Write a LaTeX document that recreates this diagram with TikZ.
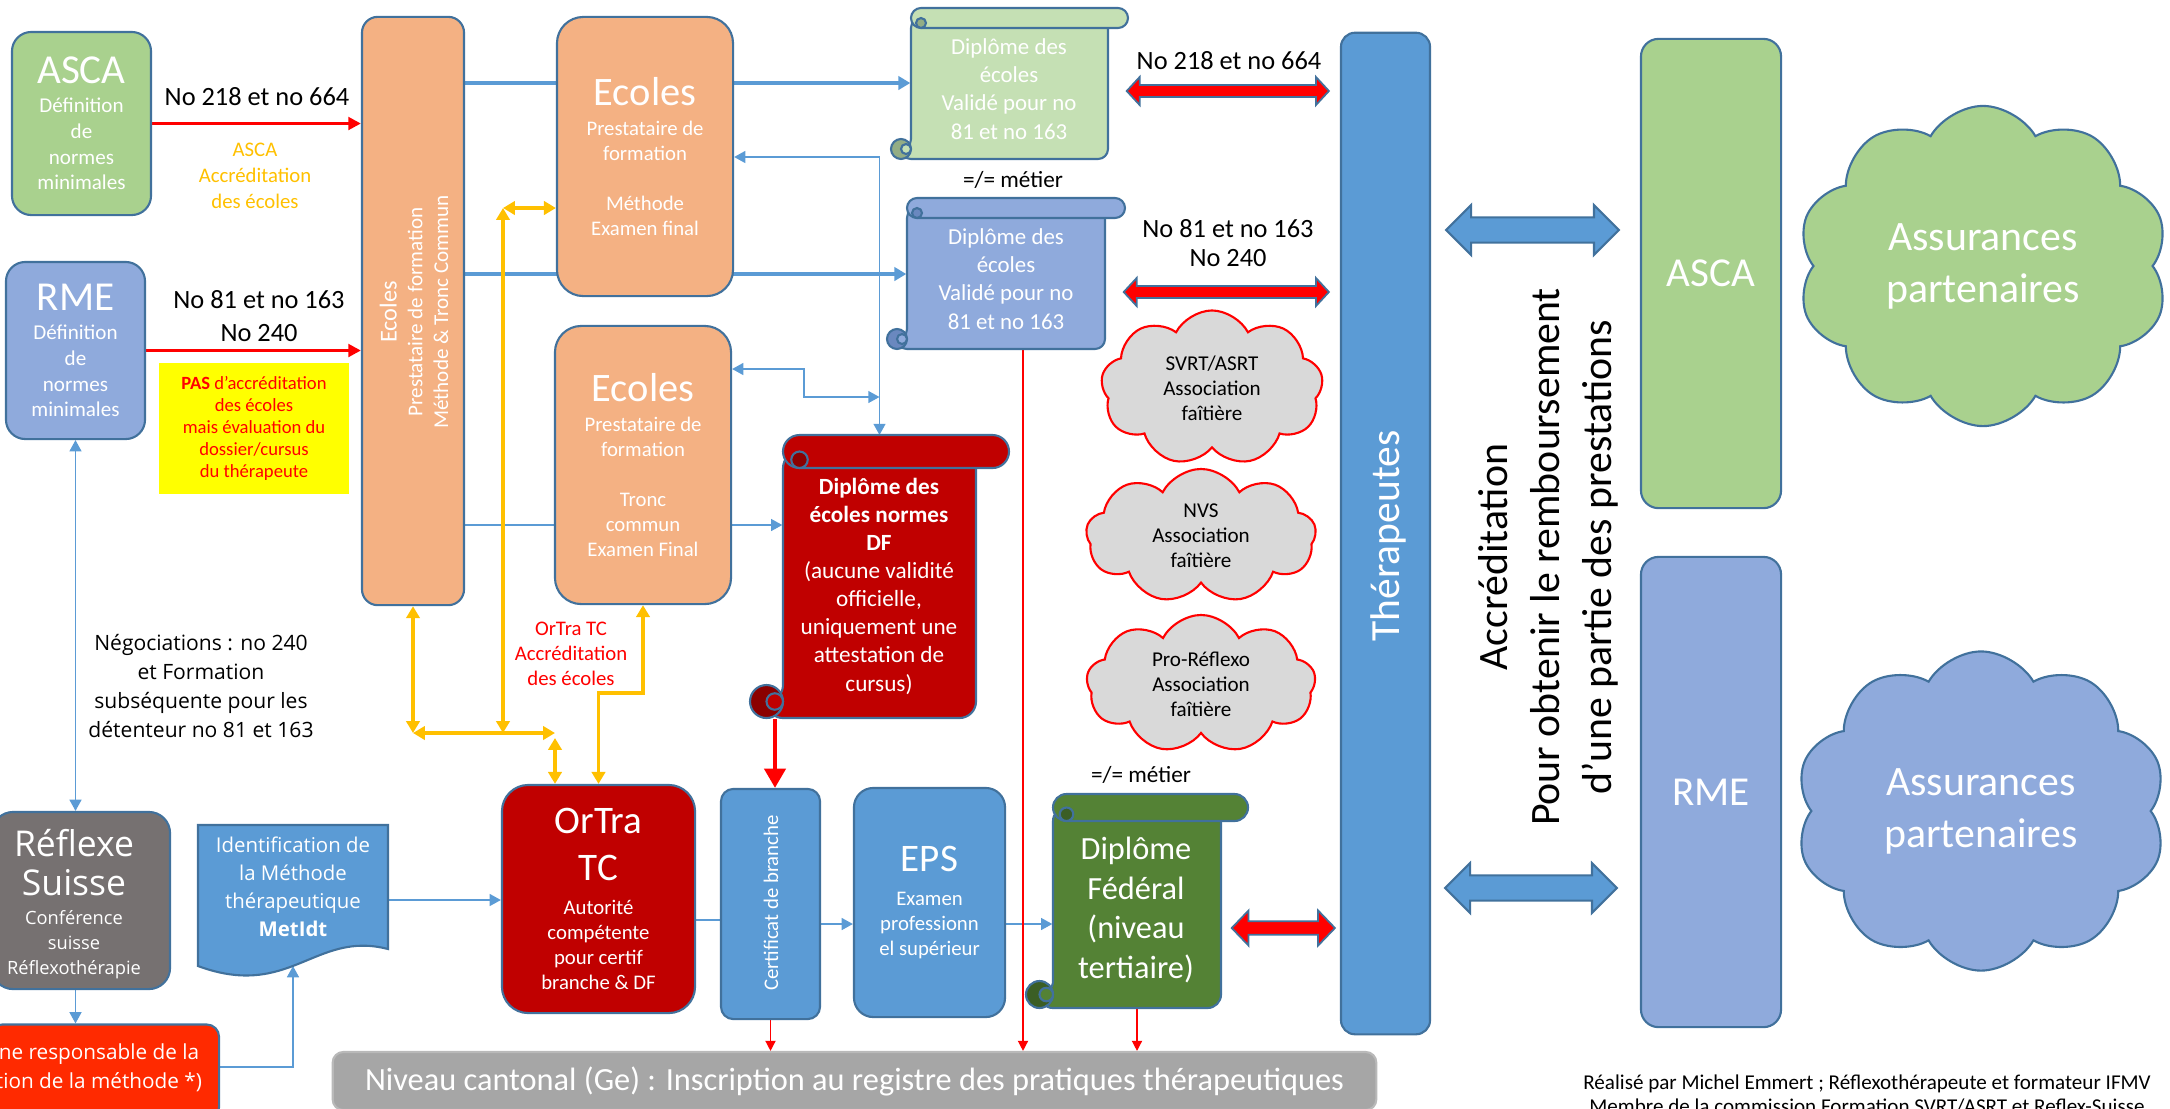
\documentclass[tikz,border=0pt]{standalone}
\usepackage{fontspec}
\setmainfont{Carlito}
\newfontfamily\segoe{Open Sans}
\usetikzlibrary{arrows.meta,shapes.symbols,calc,backgrounds}

\definecolor{bordc}{HTML}{41719C}
\definecolor{greenL}{HTML}{A9D18E}
\definecolor{blueL}{HTML}{8FAADC}
\definecolor{orangeL}{HTML}{F4B183}
\definecolor{blueM}{HTML}{5B9BD5}
\definecolor{redD}{HTML}{C00000}
\definecolor{redDD}{HTML}{8B0000}
\definecolor{greenD}{HTML}{548235}
\definecolor{greenDD}{HTML}{3B5E25}
\definecolor{greenS}{HTML}{C5E0B4}
\definecolor{greenSD}{HTML}{93AD85}
\definecolor{blueSD}{HTML}{6A88BF}
\definecolor{greyD}{HTML}{767171}
\definecolor{greyL}{HTML}{D9D9D9}
\definecolor{greyM}{HTML}{A6A6A6}
\definecolor{cYel}{HTML}{FFC000}
\definecolor{redV}{HTML}{FF0000}
\definecolor{redO}{HTML}{FF2A00}
\definecolor{yelBox}{HTML}{FFFF00}

\newcommand{\fnt}[2]{\fontsize{#1}{#2}\selectfont}

% scroll: name, left, top, right, bottom, roll radius, fill, curl fill
\newcommand{\scroll}[8]{%
  \pgfmathsetmacro\scrollr{#6*0.2845}
  \draw[scrollline, fill=#7, rounded corners=\scrollr pt] (#2,#3+#6) -- (#4,#3+#6) -- (#4,#5) -- (#2-#6,#5) -- (#2-#6,#5-#6) -- (#2,#5-#6) -- cycle;
  \draw[scrollline, fill=#8] (#2-#6,#5-#6) circle (#6);
  \draw[scrollline, fill=#7] (#2-0.5*#6,#5-#6) circle (0.5*#6);
  \draw[scrollline, fill=#7, rounded corners=\scrollr pt] (#2,#3) rectangle (#4+2*#6,#3+2*#6);
  \draw[scrollline, fill=#8] (#2+#6,#3+1.5*#6) circle (0.5*#6);
  \node[inner sep=0pt, minimum width={(#4-#2)*0.01cm}, minimum height={(#5-#3-2*#6)*0.01cm}] (#1) at ({(#2+#4)/2},{(#3+2*#6+#5)/2}) {};
  \coordinate (#1-top) at ({(#2+#4)/2},#3);
}

% band arrow: style, from, to, shaft half, head half, head length
\newcommand{\dblarrow}[6]{%
  \path[#1] let \p1=#2, \p2=#3 in (\x1,\y1) -- ++(#6,#5) -- ++(0,#4-#5) -- (\x2-#6,\y1+#4) -- ++(0,#5-#4) -- (\x2,\y1) -- ++(-#6,-#5) -- ++(0,#5-#4) -- (\x1+#6,\y1-#4) -- ++(0,#4-#5) -- cycle;}

\begin{document}
\begin{tikzpicture}[x=0.01cm, y=-0.01cm]
  \tikzstyle{cadre}=[draw=bordc, line width=0.6pt, text=white, align=center, inner sep=0pt]
  \tikzstyle{norme}=[cadre, minimum width=1.39cm, rounded corners=5.5pt, font=\fnt{6}{7.3}]
  \tikzstyle{ecole}=[cadre, fill=orangeL, minimum width=1.76cm, minimum height=2.78cm, rounded corners=7.5pt, font=\fnt{5.9}{7.1}]
  \tikzstyle{etape}=[cadre, minimum height=2.29cm, rounded corners=5.5pt, font=\fnt{5.9}{7.1}]
  \tikzstyle{tall}=[cadre, minimum width=1.40cm, minimum height=4.69cm, rounded corners=5pt, font=\fnt{11.7}{14}]
  \tikzstyle{assoc}=[cloud, cloud puffs=9, cloud puff arc=125, cloud ignores aspect, draw=redV, line width=0.6pt, fill=greyL, align=center, font=\fnt{6}{7.1}, inner sep=0pt]
  \tikzstyle{insur}=[cloud, cloud puffs=10, cloud puff arc=120, cloud ignores aspect, draw=bordc, line width=0.6pt, text=white, align=center, font=\fnt{11.9}{14.8}, inner sep=0pt]
  \tikzstyle{scrollline}=[draw=bordc, line width=0.6pt]
  \tikzstyle{scrolltxt}=[text=white, align=center, inner sep=0pt]
  \tikzstyle{flow}=[draw=blueM, line width=1.1pt, -{Triangle[length=3.4pt,width=3.8pt]}]
  \tikzstyle{link}=[draw=blueM, line width=0.45pt, -{Triangle[length=3.2pt,width=3.4pt]}]
  \tikzstyle{link2}=[link, {Triangle[length=3.2pt,width=3.4pt]}-{Triangle[length=3.2pt,width=3.4pt]}]
  \tikzstyle{yellink}=[draw=cYel, line width=1.1pt, {Triangle[length=3.4pt,width=3.8pt]}-{Triangle[length=3.4pt,width=3.8pt]}]
  \tikzstyle{redlink}=[draw=redV, line width=1pt, -{Triangle[length=3.6pt,width=3.6pt]}]
  \tikzstyle{redthin}=[draw=redV, line width=0.4pt, -{Triangle[length=2.9pt,width=2.9pt]}]
  \tikzstyle{redbig}=[draw=redV, line width=1.2pt, -{Triangle[length=5.5pt,width=6pt]}]
  \tikzstyle{redband}=[fill=redV, draw=bordc, line width=0.5pt]
  \tikzstyle{blueband}=[fill=blueM, draw=bordc, line width=0.6pt]

  \useasboundingbox (0,0) rectangle (2170,1108);

  % Draw the standards on the left
  \node[norme, fill=greenL, minimum height=1.83cm] (ascaL) at (81.5,123.5) {\fnt{11.7}{14}ASCA\\[1pt]Définition\\de\\normes\\minimales};
  \node[norme, fill=blueL, minimum height=1.77cm] (rmeL) at (75.5,350.5) {\fnt{11.7}{14}RME\\[1pt]Définition\\de\\normes\\minimales};
  \node[fill=yelBox, minimum width=1.90cm, minimum height=1.31cm, inner sep=0pt, align=center, text=redV, font=\fnt{5.3}{6.3}] (pas) at (254,428.5) {\textbf{PAS} d’accréditation\\des écoles\\mais évaluation du\\dossier/cursus\\du thérapeute};

  % Draw the schools
  \node[cadre, fill=orangeL, minimum width=1.02cm, minimum height=5.88cm, rounded corners=4.5pt] (ecol) at (413,311) {};
  \node[rotate=90, text=white, align=center, font=\fnt{6}{7.3}] (ecolTxt) at (414,312) {\fnt{6.9}{7.3}Ecoles\\Prestataire de formation\\Méthode \& Tronc Commun};
  \node[ecole, minimum height=2.79cm] (ecoA) at (645,156.5) {\fnt{11.5}{14}Ecoles\\[1.5pt]Prestataire de\\formation\\[7.1pt]Méthode\\Examen final};
  \node[ecole] (ecoB) at (643,465) {\fnt{11.5}{14}Ecoles\\[1.5pt]Prestataire de\\formation\\[7.1pt]Tronc\\commun\\Examen Final};

  % Draw the diplomas
  \scroll{dipA}{911}{8}{1108}{159}{10}{greenS}{greenSD}
  \node[scrolltxt, font=\fnt{6.5}{8}] (dipAtxt) at (1009,89) {Diplôme des\\écoles\\Validé pour no\\81 et no 163};
  \scroll{dipB}{907}{198}{1105}{349}{10}{blueL}{blueSD}
  \node[scrolltxt, font=\fnt{6.5}{8}] (dipBtxt) at (1006,279) {Diplôme des\\écoles\\Validé pour no\\81 et no 163};
  \scroll{dipDF}{783}{435}{976}{718}{16.5}{redD}{redDD}
  \node[scrolltxt, font=\fnt{6.6}{8}] (dipDFtxt) at (879,586) {\textbf{Diplôme des}\\\textbf{écoles normes}\\\textbf{DF}\\(aucune validité\\officielle,\\uniquement une\\attestation de\\cursus)};
  \scroll{dipF}{1053}{794}{1221}{1008}{13.5}{greenD}{greenDD}
  \node[scrolltxt, font=\fnt{9.2}{11.3}] (dipFtxt) at (1136,910) {Diplôme\\Fédéral\\(niveau\\tertiaire)};

  % Draw the federal path
  \node[etape, fill=redD, minimum width=1.93cm, minimum height=2.28cm, rounded corners=7.5pt] (ortra) at (598.5,899) {\fnt{11.1}{13}OrTra\\[5pt]\fnt{11.1}{13}TC\\[2.5pt]Autorité\\compétente\\pour certif\\branche \& DF};
  \node[etape, fill=blueM, minimum width=0.99cm, minimum height=2.30cm, rounded corners=3.5pt] (cert) at (770.5,904) {};
  \node[rotate=90, text=white, font=\fnt{5.9}{7}] (certTxt) at (771,903) {Certificat de branche};
  \node[etape, fill=blueM, minimum width=1.51cm] (eps) at (929.5,902.5) {\fnt{11.1}{13}EPS\\[2.5pt]Examen\\professionn\\el supérieur};
  \node[cadre, fill=greyM, draw=gray!55, minimum width=10.43cm, minimum height=0.58cm, rounded corners=3pt, font=\fnt{9.2}{11}] (niveau) at (854.5,1081) {Niveau cantonal (Ge) : Inscription au registre des pratiques thérapeutiques};

  % Draw the method side
  \node[cadre, fill=greyD, minimum width=1.78cm, minimum height=1.77cm, rounded corners=6pt] (reflexe) at (81,900.5) {};
  \node[text=white, align=center, font=\segoe\fnt{5.2}{7.1}] (reflexeTxt) at (74,904) {\fnt{10.1}{12}Réflexe\\[2.5pt]\fnt{10.1}{12}Suisse\\[1pt]Conférence\\suisse\\Réflexothérapie};
  \node[cadre, fill=redO, minimum width=2.29cm, minimum height=0.95cm, rounded corners=3.5pt] (resp) at (104.5,1072) {};
  \node[text=white, align=center, font=\segoe\fnt{5.9}{8.2}] (respTxt) at (99,1068) {ne responsable de la\\tion de la méthode *)};
  \draw[cadre, fill=blueM] (198,825) -- (388,825) -- (388,949) .. controls (315,930) and (290,1000) .. (198,966) -- cycle;
  \node[text=white, align=center, inner sep=0pt, minimum width=1.90cm, minimum height=1.24cm, font=\segoe\fnt{5.8}{8}] (metidt) at (293,887) {Identification de\\la Méthode\\thérapeutique\\\textbf{MetIdt}};
  \coordinate (metB) at (293,966);
  \node[align=center, font=\segoe\fnt{6}{8.2}] (nego) at (201,686) {Négociations : no 240\\et Formation\\subséquente pour les\\détenteur no 81 et 163};

  % Draw the associations
  \foreach \name/\x/\y/\w/\h/\txt in {svrt/1212/388/2.22/1.55/{SVRT/ASRT\\Association\\faîtière},
    nvs/1201/536/2.30/1.34/{NVS\\Association\\faîtière},
    pro/1201/684/2.29/1.38/{Pro-Réflexo\\Association\\faîtière}}
    \node[assoc, minimum width=\w cm, minimum height=\h cm] (\name) at (\x,\y) {\txt};

  % Draw the therapists and the insurers
  \node[cadre, fill=blueM, minimum width=0.89cm, minimum height=10.01cm, rounded corners=4pt] (thera) at (1385.5,533.5) {};
  \node[rotate=90, text=white, font=\fnt{11.8}{14}] (theraTxt) at (1388,536) {Thérapeutes};
  \node[rotate=90, align=center, font=\fnt{11.9}{14.8}] (accR) at (1548,557) {Accréditation\\Pour obtenir le remboursement\\d'une partie des prestations};
  \node[tall, fill=greenL] (ascaR) at (1711,273.5) {ASCA};
  \node[tall, fill=blueL, minimum height=4.70cm] (rmeR) at (1711,792) {RME};
  \node[insur, fill=greenL, minimum width=3.71cm, minimum height=3.20cm] (cloudG) at (1983,266) {Assurances\\partenaires};
  \node[insur, fill=blueL, minimum width=3.71cm, minimum height=3.19cm] (cloudB) at (1981,811) {Assurances\\partenaires};

  % Labels
  \node[font=\fnt{7.5}{9}] (lblA) at (257,97) {No 218 et no 664};
  \node[align=center, text=cYel, font=\fnt{5.9}{7.4}] (accA) at (255,176) {ASCA\\Accréditation\\des écoles};
  \node[align=center, font=\fnt{7.5}{9.4}] (lblB) at (259,316) {No 81 et no 163\\No 240};
  \node[font=\fnt{7.5}{9}] (lblC) at (1229,61) {No 218 et no 664};
  \node[align=center, font=\fnt{7.5}{8.2}] (lblD) at (1228,243) {No 81 et no 163\\No 240};
  \node[font=\fnt{6.6}{8}] (metier1) at (1013,180) {=/= métier};
  \node[font=\fnt{6.6}{8}] (metier2) at (1141,775) {=/= métier};
  \node[align=center, text=redV, font=\fnt{5.9}{7.1}] (ortraLbl) at (571,654) {OrTra TC\\Accréditation\\des écoles};
  \node[align=center, font=\fnt{6}{6.8}] (credit) at (1867,1095) {Réalisé par Michel Emmert ; Réflexothérapeute et formateur IFMV\\Membre de la commission Formation SVRT/ASRT et Reflex-Suisse};

  % Connect nodes
  \begin{scope}[on background layer]
    \draw[redlink] (ascaL) -- (ecol.west |- ascaL);
    \draw[redlink] (rmeL) -- (ecol.west |- rmeL);
    \draw[flow] (ecol.east |- 0,83) -- (dipA.west |- 0,83);
    \draw[flow] (ecol.east |- 0,274) -- (dipB.west |- 0,274);
    \draw[link] (ecol.east |- 0,525) -- (dipDF.west |- 0,525);
    \draw[link2] (ecoA.east |- 0,157) -| (dipDF-top);
    \coordinate (jn) at (dipDF-top |- 0,397);
    \draw[link2] (ecoB.east |- 0,369) -| (804,397) -- (jn);

    \draw[link2] (rmeL.south) -- (rmeL.south |- reflexe.north);
    \draw[link] (rmeL.south |- reflexe.south) -- (rmeL.south |- resp.north);
    \draw[link] (resp.east |- 0,1067) -| (metB);
    \draw[link] (metidt.east |- 0,900) -- (ortra.west |- 0,900);
    \draw[draw=blueM, line width=0.45pt] (ortra.east |- 0,920) -- (cert.west |- 0,920);
    \draw[link] (cert.east |- 0,924) -- (eps.west |- 0,924);
    \draw[link] (eps.east |- 0,924) -- (dipF.west |- 0,924);

    \draw[redbig] (dipDF.south -| 775,0) -- (cert.north -| 775,0);
    \draw[redthin] (cert.south) -- (cert.south |- niveau.north);
    \draw[redthin] (dipB.south -| 1023,0) -- (niveau.north -| 1023,0);
    \draw[redthin] (dipF.south) -- (dipF.south |- niveau.north);

    \coordinate (yTop) at (503,208);
    \coordinate (yMid) at (503,733);
    \coordinate (yRight) at (555,733);
    \draw[yellink] (yMid) -- (yTop);
    \draw[yellink] (yTop) -- (ecoA.west |- yTop);
    \draw[yellink] (ecol.south) -- (ecol.south |- yMid);
    \draw[yellink] (ecol.south |- yMid) -- (yRight);
    \draw[yellink] ($(yRight)+(0,5)$) -- (ortra.north -| yRight);
    \draw[yellink] (ortra.north) -- ++(0,-91) -| (ecoB.south);

    \dblarrow{redband}{($(dipA.east |- 0,91)+(18,0)$)}{($(thera.west |- 0,91)+(-11,0)$)}{1.7pt}{4pt}{3.7pt}
    \dblarrow{redband}{($(dipB.east |- 0,292)+(18,0)$)}{($(thera.west |- 0,292)+(-11,0)$)}{1.7pt}{4pt}{3.7pt}
    \dblarrow{redband}{($(dipF.east |- 0,928)+(10,0)$)}{($(thera.west |- 0,928)+(-5,0)$)}{1.9pt}{5pt}{4.8pt}
    \dblarrow{blueband}{($(thera.east |- 0,230)+(15,0)$)}{($(ascaR.west |- 0,230)+(-21,0)$)}{3.6pt}{7.1pt}{7.1pt}
    \dblarrow{blueband}{($(thera.east |- 0,888)+(14,0)$)}{($(rmeR.west |- 0,888)+(-23,0)$)}{3.6pt}{7.1pt}{7.1pt}
  \end{scope}
\end{tikzpicture}
\end{document}
